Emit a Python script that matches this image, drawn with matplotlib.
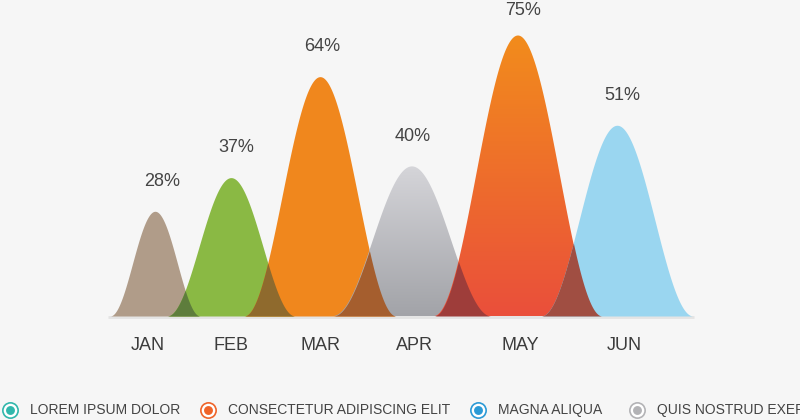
import numpy as np
import matplotlib
matplotlib.use("Agg")
import matplotlib.pyplot as plt
from matplotlib.colors import LinearSegmentedColormap

# ---- data ----
months = ["JAN", "FEB", "MAR", "APR", "MAY", "JUN"]
values = [28, 37, 64, 40, 75, 51]
legend_labels = ["LOREM IPSUM DOLOR", "CONSECTETUR ADIPISCING ELIT",
                 "MAGNA ALIQUA", "QUIS NOSTRUD EXER"]

# ---- layout / style ----
centers = [155, 231, 320, 412, 518, 617]      # horizontal placement (axis units)
half_widths = [45, 64, 76, 79, 84, 76]
month_dx = [-7, 0, 1, 2, 2, 7]
pct_dx = [7, 5, 2, 1, 5, 5]
fill_top = ["#b09c89", "#8ab944", "#f0871d", "#d5d5d9", "#f28c1c", "#9ad6f0"]
fill_bot = ["#b09c89", "#8ab944", "#f0871d", "#a2a3a8", "#ea4f3b", "#9ad6f0"]
overlap_colors = ["#5e7d3c", "#8f6a2d", "#a55e2e", "#9e3d3a", "#a04e42"]
legend_colors = ["#31b7ac", "#ef6429", "#2b9ad6", "#b3b3b6"]
legend_x = [10, 208, 478, 637]

px_per_unit = 3.74
baseline_px = 316
H, W = 420, 800

plt.rcParams['font.family'] = ['Liberation Sans', 'DejaVu Sans']

fig = plt.figure(figsize=(8, 4.2), dpi=100)
fig.patch.set_facecolor("#f6f6f6")
ax = fig.add_axes([0, 0, 1, 1])
ax.set_facecolor("#f6f6f6")
ax.set_xlim(0, W)
ax.set_ylim(-(H - baseline_px) / px_per_unit, baseline_px / px_per_unit)
ax.axis("off")

x = np.linspace(0, W, 4001)


def bell(c, w, v):
    t = (x - c) / w
    y = np.where(np.abs(t) < 1, (1 + np.cos(np.pi * t)) / 2, 0.0)
    return v * y

curves = [bell(c, w, v) for c, w, v in zip(centers, half_widths, values)]

# baseline
ax.plot([108, 694], [-0.35, -0.35], color="#e4e4e4", lw=2, zorder=1, solid_capstyle="butt")

for i, (c, w, v) in enumerate(zip(centers, half_widths, values)):
    y = curves[i]
    mask = (x >= c - w) & (x <= c + w)
    if fill_top[i] == fill_bot[i]:
        ax.fill_between(x[mask], 0, y[mask], color=fill_top[i], lw=0, zorder=2)
    else:
        poly = ax.fill_between(x[mask], 0, y[mask], color="none", lw=0, zorder=2)
        cmap = LinearSegmentedColormap.from_list("g%d" % i, [fill_bot[i], fill_top[i]])
        grad = np.linspace(0, 1, 256).reshape(-1, 1)
        im = ax.imshow(grad, cmap=cmap, aspect="auto", origin="lower",
                       extent=[c - w, c + w, 0, v], zorder=2, interpolation="bicubic")
        im.set_clip_path(poly.get_paths()[0], transform=ax.transData)

# overlaps
for i in range(len(curves) - 1):
    ov = np.minimum(curves[i], curves[i + 1])
    m = ov > 0
    ax.fill_between(x, 0, ov, where=m, color=overlap_colors[i], lw=0, zorder=3)

# labels
top_limit = ax.get_ylim()[1] - 11 / px_per_unit
for c, v, mth, mdx, pdx in zip(centers, values, months, month_dx, pct_dx):
    ax.text(c + pdx, min(v + 8.0, top_limit), f"{v}%", ha="center", va="center",
            fontsize=13, color="#444444", zorder=5)
    ax.text(c + mdx, -29 / px_per_unit, mth, ha="center", va="center",
            fontsize=13, color="#3c3c3c", zorder=5)

# legend
ly = (baseline_px - 410) / px_per_unit
for lx, col, lab in zip(legend_x, legend_colors, legend_labels):
    ax.plot([lx], [ly], marker="o", ms=11, mfc="#ffffff", mec=col, mew=1.2,
            zorder=5, clip_on=False)
    ax.plot([lx], [ly], marker="o", ms=6.4, mfc=col, mec=col, mew=0, zorder=6,
            clip_on=False)
    ax.text(lx + 20, ly, lab, ha="left", va="center", fontsize=10,
            color="#444444", zorder=5)

fig.savefig("out.png", dpi=100, facecolor=fig.get_facecolor())
